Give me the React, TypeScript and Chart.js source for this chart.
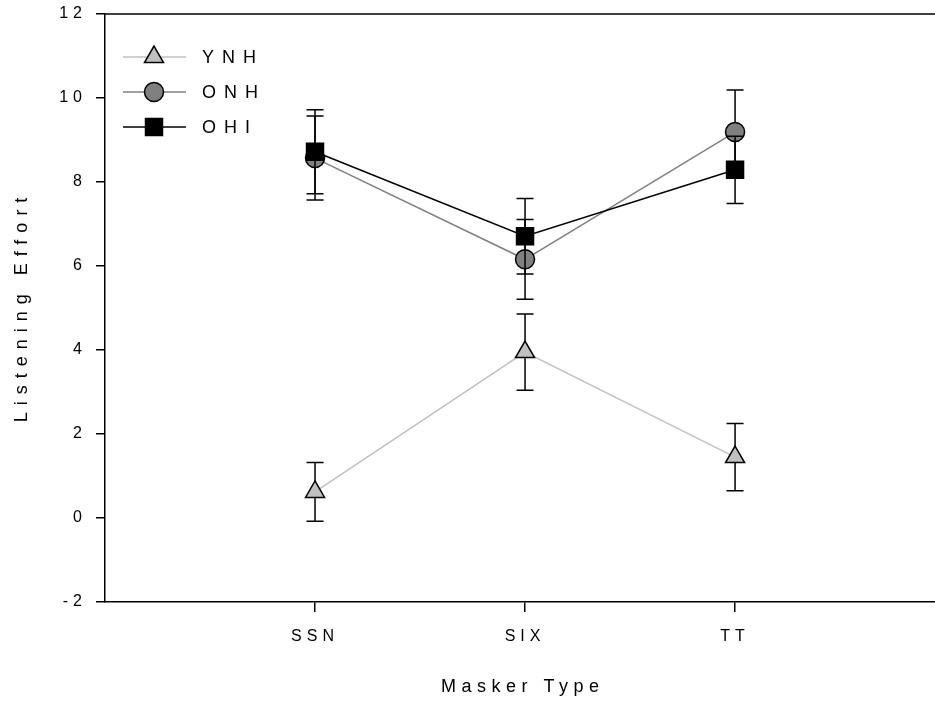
import React, { useEffect, useRef } from 'react';
import { Chart, registerables } from 'chart.js';
import { drawPoint } from 'chart.js/helpers';

Chart.register(...registerables);

const CATEGORIES = ['SSN', 'SIX', 'TT'];
const X_POS = [1, 2, 3];
const Y_TICKS = [-2, 0, 2, 4, 6, 8, 10, 12];
const SERIES_NAMES = ['YNH', 'ONH', 'OHI'];
const X_TITLE = 'Masker Type';
const Y_TITLE = 'Listening Effort';
const YNH = [0.62, 3.95, 1.45];
const YNH_ERR = [0.7, 0.91, 0.8];
const ONH = [8.57, 6.16, 9.19];
const ONH_ERR = [1.0, 0.95, 1.0];
const OHI = [8.72, 6.71, 8.29];
const OHI_ERR = [1.0, 0.9, 0.8];

const FONT = "'Liberation Sans', Arial, sans-serif";

const noPadding = () => ({ left: 0, top: 0, right: 0, bottom: 0 });

const errorBarPlugin = {
  id: 'errorBars',
  beforeDatasetDraw(chart: any, args: any) {
    const ds = chart.data.datasets[args.index];
    const errs: number[] = ds.errors || [];
    const yScale = chart.scales.y;
    const ctx = chart.ctx;
    ctx.save();
    ctx.strokeStyle = '#000';
    ctx.lineWidth = 1.5;
    args.meta.data.forEach((pt: any, i: number) => {
      const v = ds.data[i].y;
      const e = errs[i];
      const yt = yScale.getPixelForValue(v + e);
      const yb = yScale.getPixelForValue(v - e);
      const x = pt.x;
      ctx.beginPath();
      ctx.moveTo(x, yt);
      ctx.lineTo(x, yb);
      ctx.moveTo(x - 8.5, yt);
      ctx.lineTo(x + 8.5, yt);
      ctx.moveTo(x - 8.5, yb);
      ctx.lineTo(x + 8.5, yb);
      ctx.stroke();
    });
    ctx.restore();
  },
};

const framePlugin = {
  id: 'frameAndLegend',
  beforeDraw(chart: any) {
    (chart.ctx as any).letterSpacing = '5px';
  },
  afterDraw(chart: any) {
    const ctx = chart.ctx;
    const { left, right, top, bottom } = chart.chartArea;
    ctx.save();
    ctx.strokeStyle = '#000';
    ctx.lineWidth = 1.5;
    ctx.beginPath();
    ctx.moveTo(left, top);
    ctx.lineTo(right, top);
    ctx.stroke();
    ctx.restore();

    // axis titles
    ctx.save();
    ctx.fillStyle = '#000';
    ctx.font = `18px ${FONT}`;
    ctx.textAlign = 'center';
    ctx.textBaseline = 'middle';
    (ctx as any).letterSpacing = '5.5px';
    ctx.fillText(X_TITLE, (left + right) / 2 + 2.75, 687);
    ctx.translate(22, (top + bottom) / 2 + 2);
    ctx.rotate(-Math.PI / 2);
    (ctx as any).letterSpacing = '7px';
    ctx.fillText(Y_TITLE, 3.5, 0);
    ctx.restore();

    // legend
    const rows = [57, 92, 127];
    chart.data.datasets.forEach((ds: any, i: number) => {
      const y = rows[i];
      ctx.save();
      ctx.strokeStyle = ds.borderColor;
      ctx.lineWidth = 1.5;
      ctx.beginPath();
      ctx.moveTo(123, y);
      ctx.lineTo(186, y);
      ctx.stroke();
      ctx.fillStyle = ds.pointBackgroundColor;
      ctx.strokeStyle = '#000';
      ctx.lineWidth = 1.5;
      drawPoint(ctx, { pointStyle: ds.pointStyle, radius: ds.pointRadius, rotation: 0, borderWidth: 1.5 } as any, 154, y);
      (ctx as any).letterSpacing = '8px';
      ctx.fillStyle = '#000';
      ctx.font = `18px ${FONT}`;
      ctx.textAlign = 'left';
      ctx.textBaseline = 'middle';
      ctx.fillText(ds.label, 202, y + 1);
      ctx.restore();
    });
  },
};

function makeData(vals: number[]) {
  return vals.map((v, i) => ({ x: X_POS[i], y: v }));
}

export default function App() {
  const ref = useRef<HTMLCanvasElement>(null);
  useEffect(() => {
    if (!ref.current) return;
    const common = { borderWidth: 1.5, pointBorderColor: '#000', pointBorderWidth: 1.5, pointHoverRadius: 0, tension: 0, fill: false };
    const chart = new Chart(ref.current, {
      type: 'line',
      data: {
        datasets: [
          { ...common, label: SERIES_NAMES[0], data: makeData(YNH), errors: YNH_ERR, borderColor: '#c0c0c0', pointBackgroundColor: '#c0c0c0', pointStyle: 'triangle', pointRadius: 11, order: 3 } as any,
          { ...common, label: SERIES_NAMES[1], data: makeData(ONH), errors: ONH_ERR, borderColor: '#808080', pointBackgroundColor: '#808080', pointStyle: 'circle', pointRadius: 9.5, order: 2 } as any,
          { ...common, label: SERIES_NAMES[2], data: makeData(OHI), errors: OHI_ERR, borderColor: '#000000', pointBackgroundColor: '#000000', pointStyle: 'rect', pointRadius: 12, order: 1 } as any,
        ],
      },
      options: {
        responsive: false,
        animation: false,
        events: [],
        layout: { autoPadding: false, padding: { top: 14, right: 0, left: 0, bottom: 0 } },
        plugins: { legend: { display: false }, tooltip: { enabled: false } },
        scales: {
          x: {
            type: 'linear',
            min: 0,
            max: 3.952,
            afterBuildTicks: (s: any) => { s.ticks = X_POS.map((v) => ({ value: v })); },
            afterFit: (s: any) => {
              s.height = 103;
              s.paddingLeft = 0; s.paddingRight = 0; s.paddingTop = 0; s.paddingBottom = 0;
              s.getPadding = noPadding;
            },
            ticks: {
              callback: (v: any) => CATEGORIES[X_POS.indexOf(Number(v))] ?? '',
              color: '#000',
              font: { family: FONT, size: 16 },
              padding: 15,
              maxRotation: 0,
              autoSkip: false,
            },
            grid: { display: true, drawOnChartArea: false, drawTicks: true, tickLength: 10, color: '#000', lineWidth: 1.5 },
            border: { display: true, color: '#000', width: 1.5 },
            title: { display: false },
          },
          y: {
            type: 'linear',
            min: -2,
            max: 12,
            afterBuildTicks: (s: any) => { s.ticks = Y_TICKS.map((v) => ({ value: v })); },
            afterFit: (s: any) => {
              s.width = 105;
              s.paddingLeft = 0; s.paddingRight = 0; s.paddingTop = 0; s.paddingBottom = 0;
              s.getPadding = noPadding;
            },
            ticks: { color: '#000', font: { family: FONT, size: 16 }, padding: 9 },
            grid: { display: true, drawOnChartArea: false, drawTicks: true, tickLength: 9, color: '#000', lineWidth: 1.5 },
            border: { display: true, color: '#000', width: 1.5 },
            title: { display: false },
          },
        },
      } as any,
      plugins: [errorBarPlugin, framePlugin],
    });
    return () => chart.destroy();
  }, []);
  return (
    <div style={{ position: 'absolute', left: 0, top: 0, width: 935, height: 705, background: '#fff', overflow: 'hidden' }}>
      <canvas ref={ref} width={935} height={705} style={{ display: 'block' }} />
    </div>
  );
}
